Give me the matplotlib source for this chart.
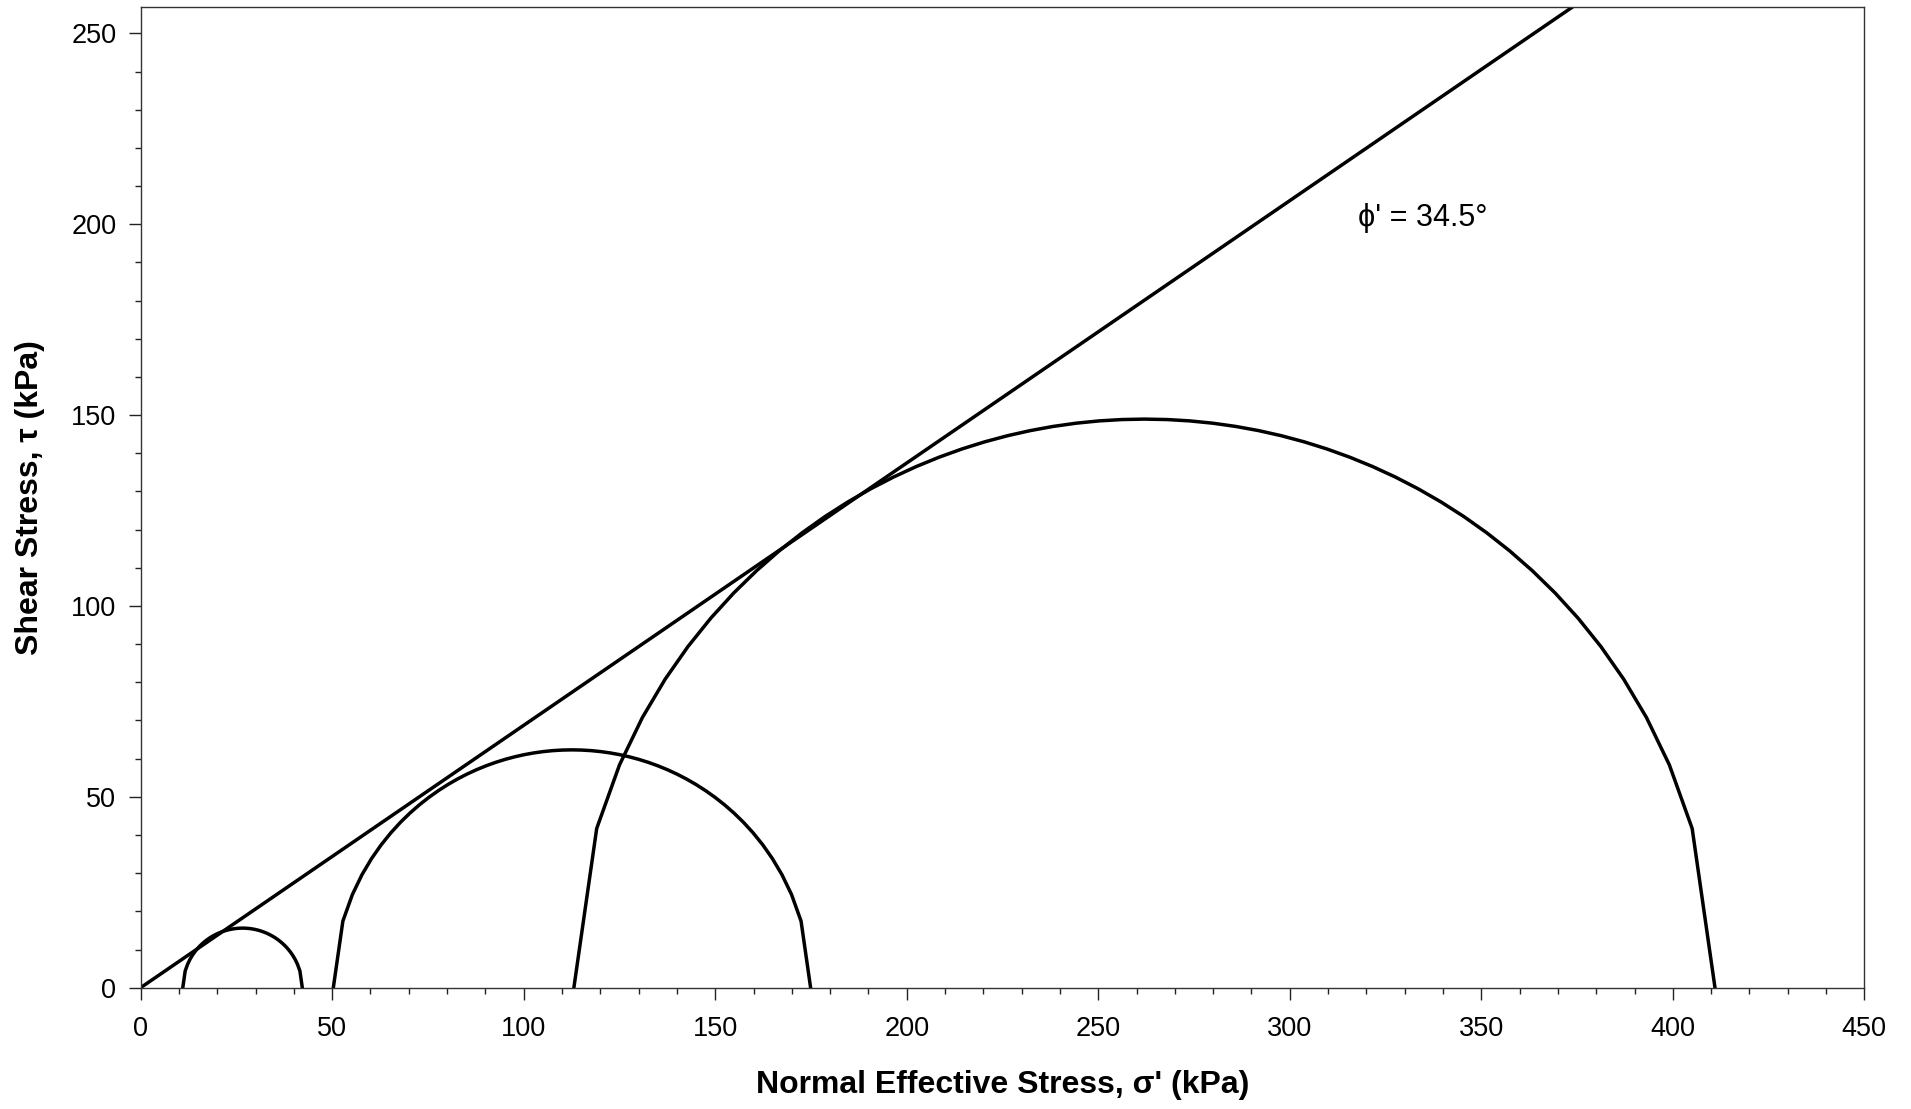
import numpy as np
import matplotlib
matplotlib.use("Agg")
import matplotlib.pyplot as plt
from matplotlib.ticker import MultipleLocator

plt.rcParams['font.family'] = ['Liberation Sans', 'DejaVu Sans']

# Data: principal effective stresses of the three Mohr circles (kPa)
sigma3 = [11.0, 50.3, 113.1]
sigma1 = [42.2, 174.9, 411.0]
phi_deg = 34.5          # failure envelope friction angle
n_segments = 50         # the circles are drawn as polylines

x_ticks = [0, 50, 100, 150, 200, 250, 300, 350, 400, 450]
y_ticks = [0, 50, 100, 150, 200, 250]
x_lim = (0, 450)
y_lim = (0, 257)

fig = plt.figure(figsize=(19.11, 11.09), dpi=100)
ax = fig.add_axes([0.0736, 0.1094, 0.9020, 0.8846])

# Mohr circles (upper halves)
for s3, s1 in zip(sigma3, sigma1):
    c = (s1 + s3) / 2.0
    r = (s1 - s3) / 2.0
    xs = np.linspace(s3, s1, n_segments + 1)
    ys = np.sqrt(np.clip(r**2 - (xs - c)**2, 0, None))
    ax.plot(xs, ys, color='black', lw=2.5, solid_joinstyle='miter')

# Failure envelope through origin
env_x = np.array([0.0, x_lim[1]])
env_y = env_x * np.tan(np.radians(phi_deg))
ax.plot(env_x, env_y, color='black', lw=2.5)

ax.text(317.8, 199.5, "\u03d5' = 34.5\u00b0", fontsize=22, ha='left', va='baseline')

ax.set_xlim(*x_lim)
ax.set_ylim(*y_lim)
ax.set_xticks(x_ticks)
ax.set_yticks(y_ticks)
ax.xaxis.set_minor_locator(MultipleLocator(10))
ax.yaxis.set_minor_locator(MultipleLocator(10))
ax.tick_params(which='major', direction='out', length=8.5, width=1.0, labelsize=19.5, color='#222222')
ax.tick_params(axis='x', which='major', pad=12)
ax.tick_params(axis='y', which='major', pad=9)
ax.tick_params(which='minor', direction='out', length=4.5, width=1.0, color='#222222')
for sp in ax.spines.values():
    sp.set_color('#333333')
    sp.set_linewidth(1.0)

ax.set_xlabel("Normal Effective Stress, \u03c3' (kPa)", fontsize=23, fontweight='bold')
ax.xaxis.set_label_coords(0.5, -0.099)
ax.xaxis.label.set_va('center')
ax.set_ylabel("Shear Stress, \u03c4 (kPa)", fontsize=23, fontweight='bold')
ax.yaxis.set_label_coords(-0.064, 0.5)
ax.yaxis.label.set_va('center')

fig.savefig("out.png", dpi=100, facecolor='white')
